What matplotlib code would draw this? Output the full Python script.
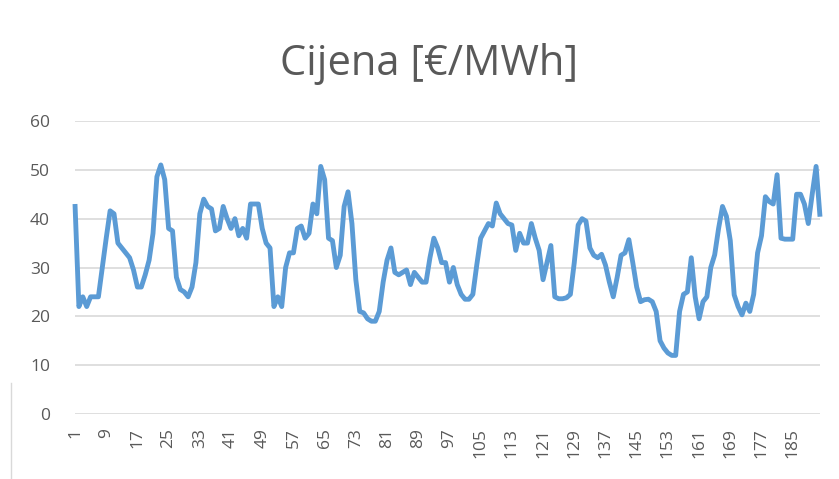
import numpy as np
import matplotlib
matplotlib.use("Agg")
import matplotlib.pyplot as plt
from matplotlib.lines import Line2D

# hourly price values
cijena = [
    43, 22, 24, 22, 24, 24, 24, 30, 36, 41.6,
    41, 35, 34, 33, 32, 29.5, 26, 26, 28.5, 31.5,
    37, 48.6, 51, 48, 38, 37.5, 28, 25.5, 25, 24,
    26, 31, 41, 44, 42.5, 42, 37.5, 38, 42.5, 40,
    38, 40, 36.5, 38, 36, 43, 43, 43, 38, 35,
    34, 22, 24, 22, 30, 33, 33, 38, 38.5, 36,
    37, 43, 41, 50.7, 48, 36, 35.5, 30, 32.5, 42.5,
    45.5, 39, 27.5, 21, 20.7, 19.5, 19, 19, 21, 27,
    31.5, 34, 29, 28.5, 29, 29.5, 26.5, 29, 28, 27,
    27, 32, 36, 34, 31, 31, 27, 30, 26.5, 24.5,
    23.5, 23.5, 24.5, 30.5, 36, 37.5, 39, 38.5, 43.2, 41,
    40, 39, 38.7, 33.5, 37, 35, 35, 39, 36, 33.5,
    27.5, 31, 34.5, 24, 23.6, 23.6, 23.8, 24.5, 31, 38.7,
    40, 39.5, 34, 32.5, 32, 32.7, 30.5, 27, 24, 28,
    32.5, 33, 35.7, 31, 26, 23, 23.4, 23.5, 23, 21,
    15, 13.5, 12.5, 12, 12, 21, 24.5, 25, 32, 24,
    19.5, 23, 24, 30, 32.6, 38, 42.5, 40.5, 35.5, 24.4,
    22, 20.3, 22.7, 21, 24.5, 33, 36.5, 44.5, 43.5, 43,
    49, 36, 35.8, 35.8, 35.8, 45, 45, 43, 39, 45,
    50.7, 40.4,
]
sati = np.arange(1, len(cijena) + 1)
x_ticks = list(range(1, len(cijena) + 1, 8))
y_ticks = [0, 10, 20, 30, 40, 50, 60]

GRAY = '#595959'
plt.rcParams['font.family'] = ['Open Sans', 'DejaVu Sans']

fig = plt.figure(figsize=(8.39, 4.79), dpi=100)
ax = fig.add_axes([75/839, 1 - 414/479, 745/839, 293/479])

ax.plot(sati, cijena, color='#5b9bd5', lw=3.5, solid_joinstyle='round',
        solid_capstyle='butt', zorder=3, clip_on=False)

ax.set_xlim(1, len(cijena))
ax.set_ylim(0, 60)
ax.set_yticks(y_ticks)
ax.set_xticks(x_ticks)
ax.set_xticklabels([str(t) for t in x_ticks], rotation=90)
ax.tick_params(axis='both', length=0, colors=GRAY, labelsize=12.5)
ax.tick_params(axis='x', pad=10)
ax.tick_params(axis='y', pad=18)
ax.grid(axis='y', color='#d9d9d9', lw=1.2)
for s in ax.spines.values():
    s.set_visible(False)

fig.text(429/839, 1 - 64/479, 'Cijena [€/MWh]', ha='center', va='center',
         fontsize=30, color=GRAY)

# chart area border, partly cut off in the screenshot
fig.add_artist(Line2D([11/839, 11/839], [0, 0.2], transform=fig.transFigure,
                      color='#d9d9d9', lw=1))

fig.savefig('out.png', dpi=100)
